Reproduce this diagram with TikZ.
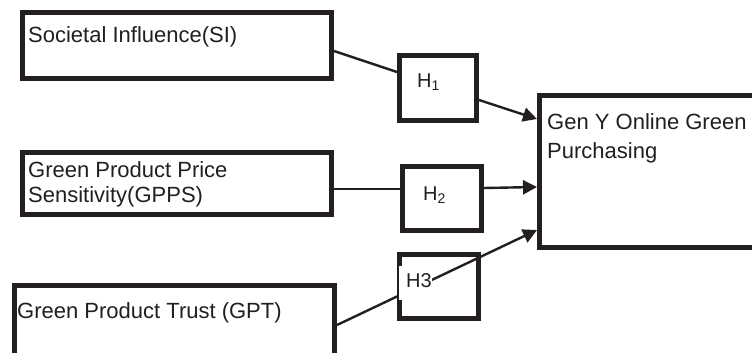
\documentclass[tikz,border=0pt]{standalone}
\usepackage{fontspec}
\setmainfont{Liberation Sans}
\usetikzlibrary{arrows.meta}
\definecolor{ink}{HTML}{231F20}
\begin{document}
\begin{tikzpicture}[x=1pt,y=-1pt,
  box/.style={draw=ink,line width=5pt,inner sep=0pt,fill=white},
  conn/.style={draw=ink,line width=2.4pt},
  arr/.style={conn,-{Triangle[length=14pt,width=14pt]}},
  txt/.style={text=ink,inner sep=0pt,anchor=base west,font=\fontsize{22pt}{25pt}\selectfont},
  hyp/.style={text=ink,inner sep=0pt,anchor=base west,font=\fontsize{20pt}{24pt}\selectfont}]
\useasboundingbox (0,0) rectangle (752,353);
\clip (0,0) rectangle (752,353);
\fill[white] (0,0) rectangle (752,353);

% construct boxes
\node[box,minimum width=309pt,minimum height=66pt] (si)   at (177,45.5) {};
\node[box,minimum width=309pt,minimum height=62pt] (gpps) at (177,183.5) {};
\node[box,minimum width=320pt,minimum height=79pt] (gpt)  at (174.5,325) {};
% hypothesis boxes
\node[box,minimum width=77pt,minimum height=65pt] (h1) at (438,88) {};
\node[box,minimum width=79pt,minimum height=64pt] (h2) at (442,198.5) {};
\node[box,minimum width=79pt,minimum height=64pt] (h3) at (439,286.5) {};
% outcome box
\node[box,minimum width=225.5pt,minimum height=152pt] (gy) at (652.25,171.5) {};

% texts
\node[txt] (tsi) at (28,43) {Societal Influence(SI)};
\node[txt] (tgpps) at (28,177) {\vtop{\baselineskip=25pt\hbox{Green Product Price}\hbox{Sensitivity(GPPS)}}};
\node[txt] (tgpt) at (17,318) {Green Product Trust (GPT)};
\node[txt] (tgy) at (547,129) {\vtop{\baselineskip=29pt\hbox{Gen Y Online Green}\hbox{Purchasing}}};
\node[hyp] (th1) at (417,87) {H\textsubscript{1}};
\node[hyp] (th2) at (423,200) {H\textsubscript{2}};

% connectors
\draw[conn] ([yshift=-5.5pt]si.east) -- ([yshift=16pt]h1.west);
\draw[arr]  ([yshift=-12pt]h1.east) -- ([yshift=52.5pt]gy.west);
\draw[conn] ([yshift=-5.5pt]gpps.east) -- ([yshift=9.5pt]h2.west);
\draw[arr]  ([yshift=10.5pt]h2.east) -- ([yshift=-15.5pt]gy.west);
\draw[arr]  (gpt.east) -- ([yshift=-58.5pt]gy.west);

% H3 label sits on a white patch over the crossing connector
\node[fill=white,inner sep=0pt,minimum width=33.5pt,minimum height=34pt,anchor=north west] (h3bg) at (398.5,266) {};
\node[hyp] (th3) at (406,287) {H3};
\end{tikzpicture}
\end{document}
